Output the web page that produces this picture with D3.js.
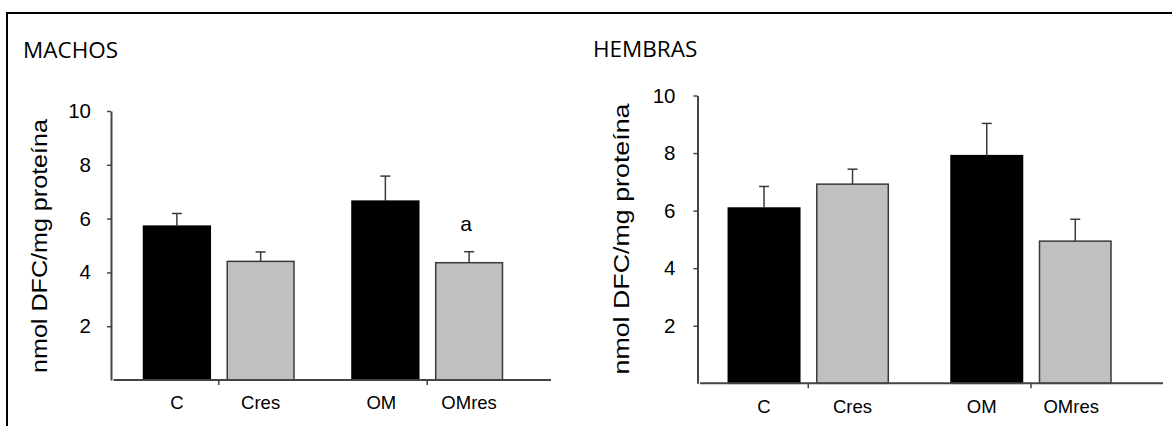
<!DOCTYPE html>
<html>
<head>
<meta charset="utf-8">
<script src="https://cdn.jsdelivr.net/npm/d3@7"></script>
<style>
  html, body { margin: 0; padding: 0; background: #fff; }
  svg { display: block; }
  .tick text { font-family: Arial, "Liberation Sans", sans-serif; fill: #000; }
</style>
</head>
<body>
<svg id="chart" width="1172" height="426"></svg>
<script>
// Treatment groups and the four bars shown in each panel
const groups = ["C", "OM"];
const treatments = ["", "res"];
const categories = ["C", "Cres", "OM", "OMres"];
const yTicks = [2, 4, 6, 8, 10];

// Males (MACHOS): mean and SEM
const machosValues = [5.72, 4.41, 6.65, 4.36];
const machosErrors = [0.47, 0.35, 0.93, 0.41];
const machosMarks = ["", "", "", "a"];

// Females (HEMBRAS): mean and SEM
const hembrasValues = [6.09, 6.92, 7.91, 4.94];
const hembrasErrors = [0.75, 0.52, 1.12, 0.76];
const hembrasMarks = ["", "", "", ""];

const barFills = ["#000000", "#c0c0c0", "#000000", "#c0c0c0"];
const barStrokes = ["#000000", "#3a3a3a", "#000000", "#3a3a3a"];

const svg = d3.select("#chart");

// Frame lines along the top and left edges
svg.append("line").attr("x1", 7).attr("x2", 1172).attr("y1", 13).attr("y2", 13)
  .attr("stroke", "#000").attr("stroke-width", 2);
svg.append("line").attr("x1", 7).attr("x2", 7).attr("y1", 12).attr("y2", 426)
  .attr("stroke", "#000").attr("stroke-width", 2);

function panel(cfg) {
  const g = svg.append("g");

  const y = d3.scaleLinear().domain([0, 10]).range([cfg.y0, cfg.y10]);

  const x0 = d3.scaleBand().domain(groups)
    .range([cfg.barStart, cfg.barEnd])
    .paddingInner(cfg.groupPad).paddingOuter(0);
  const x1 = d3.scaleBand().domain(treatments)
    .range([0, x0.bandwidth()])
    .paddingInner(cfg.pairPad).paddingOuter(0);

  const xOf = i => x0(groups[Math.floor(i / 2)]) + x1(treatments[i % 2]);
  const bw = x1.bandwidth();

  // Title
  g.append("text")
    .attr("x", cfg.titleX).attr("y", cfg.titleY)
    .attr("font-family", "'Open Sans', Lato, sans-serif")
    .attr("font-size", 22.5)
    .attr("fill", "#000")
    .text(cfg.title);

  // Y axis
  const yAxis = d3.axisLeft(y).tickValues(yTicks).tickSize(4).tickSizeOuter(0)
    .tickPadding(cfg.tickPad).tickFormat(d3.format("d"));
  const ya = g.append("g").attr("transform", `translate(${cfg.axisX},0)`).call(yAxis);
  ya.select(".domain").attr("stroke", "#444").attr("stroke-width", 2);
  ya.selectAll(".tick line").attr("stroke", "#444").attr("stroke-width", 1.5);
  ya.selectAll(".tick text").attr("font-size", 20.5);

  // Y axis title
  g.append("text")
    .attr("transform", `translate(${cfg.labelX},${cfg.labelY}) rotate(-90)`)
    .attr("text-anchor", "middle")
    .attr("dominant-baseline", "central")
    .attr("font-family", "Arial, 'Liberation Sans', sans-serif")
    .attr("font-size", 22.5)
    .attr("fill", "#000")
    .attr("textLength", cfg.labelLen)
    .attr("lengthAdjust", "spacingAndGlyphs")
    .text("nmol DFC/mg proteína");

  // Bars
  g.selectAll("rect.bar").data(cfg.values).join("rect")
    .attr("class", "bar")
    .attr("x", (d, i) => xOf(i))
    .attr("width", bw)
    .attr("y", d => y(d))
    .attr("height", d => y(0) - y(d))
    .attr("fill", (d, i) => barFills[i])
    .attr("stroke", (d, i) => barStrokes[i])
    .attr("stroke-width", 1.5);

  // Error bars (upper half only)
  const eb = g.selectAll("g.err").data(cfg.values).join("g").attr("class", "err");
  eb.append("line")
    .attr("x1", (d, i) => xOf(i) + bw / 2).attr("x2", (d, i) => xOf(i) + bw / 2)
    .attr("y1", d => y(d))
    .attr("y2", (d, i) => y(d + cfg.errors[i]))
    .attr("stroke", "#3a3a3a").attr("stroke-width", 1.5);
  eb.append("line")
    .attr("x1", (d, i) => xOf(i) + bw / 2 - 5).attr("x2", (d, i) => xOf(i) + bw / 2 + 5)
    .attr("y1", (d, i) => y(d + cfg.errors[i]))
    .attr("y2", (d, i) => y(d + cfg.errors[i]))
    .attr("stroke", "#3a3a3a").attr("stroke-width", 1.5);

  // Significance letters
  g.selectAll("text.mark").data(cfg.marks).join("text")
    .attr("class", "mark")
    .attr("x", (d, i) => xOf(i) + bw / 2 - 3)
    .attr("y", (d, i) => y(cfg.values[i] + cfg.errors[i]) - 21)
    .attr("text-anchor", "middle")
    .attr("font-family", "Arial, 'Liberation Sans', sans-serif")
    .attr("font-size", 21)
    .attr("fill", "#000")
    .text(d => d);

  // X axis baseline
  g.append("line")
    .attr("x1", cfg.axisX + 2.5).attr("x2", cfg.xAxisEnd)
    .attr("y1", y(0)).attr("y2", y(0))
    .attr("stroke", "#444").attr("stroke-width", 2);

  // Group ticks under each pair
  const xAxis = d3.axisBottom(x0).tickSize(5).tickSizeOuter(0).tickFormat("");
  const xa = g.append("g").attr("transform", `translate(0,${y(0)})`).call(xAxis);
  xa.select(".domain").remove();
  xa.selectAll(".tick line").attr("stroke", "#444").attr("stroke-width", 1.5);

  // Category labels
  g.selectAll("text.cat").data(categories).join("text")
    .attr("class", "cat")
    .attr("x", (d, i) => xOf(i) + bw / 2 + cfg.catShift[i])
    .attr("y", y(0) + cfg.catDy)
    .attr("text-anchor", "middle")
    .attr("font-family", "Arial, 'Liberation Sans', sans-serif")
    .attr("font-size", 18.5)
    .attr("fill", "#000")
    .text(d => d);
}

panel({
  title: "MACHOS", titleX: 23, titleY: 58,
  values: machosValues, errors: machosErrors, marks: machosMarks,
  y0: 380, y10: 111, axisX: 111, xAxisEnd: 551,
  barStart: 143.5, barEnd: 502.5, groupPad: 0.278, pairPad: 0.2024,
  tickPad: 16, labelX: 39, labelY: 246, labelLen: 254,
  catDy: 29, catShift: [0, 0, -4, 0]
});

panel({
  title: "HEMBRAS", titleX: 593, titleY: 57,
  values: hembrasValues, errors: hembrasErrors, marks: hembrasMarks,
  y0: 383.3, y10: 95.5, axisX: 697.5, xAxisEnd: 1163,
  barStart: 728.3, barEnd: 1111, groupPad: 0.2816, pairPad: 0.192,
  tickPad: 18, labelX: 621, labelY: 239, labelLen: 271,
  catDy: 30, catShift: [0, 0, -5, -4]
});
</script>
</body>
</html>
